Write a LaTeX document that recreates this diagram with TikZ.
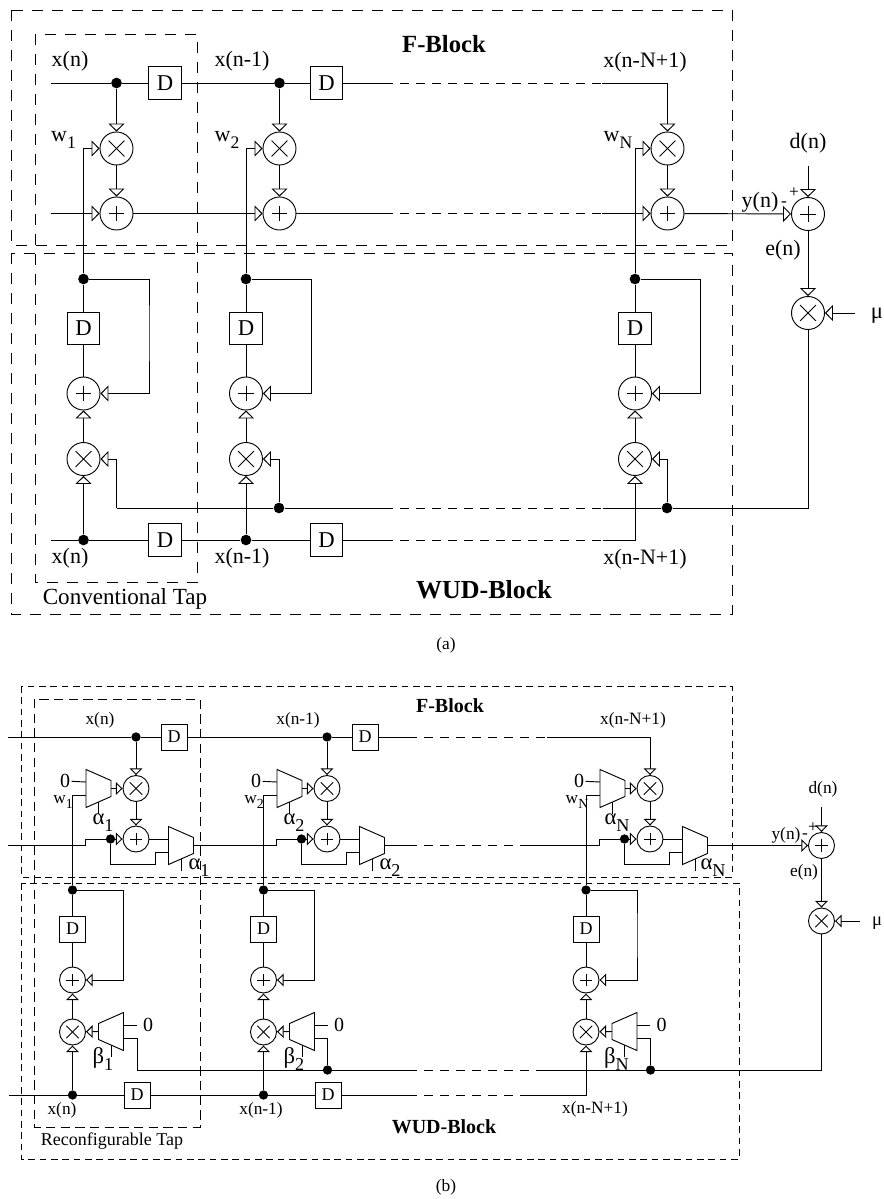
\documentclass[tikz,border=0pt]{standalone}
\usepackage{fontspec}
\setmainfont{Liberation Serif}
\usetikzlibrary{arrows.meta}
\newcommand{\lsub}[2]{#1\raisebox{-.7ex}{\scalebox{.8}{#2}}}
\tikzset{
  wire/.style={line width=.7pt},
  gapa/.style={line width=.75pt,dash pattern=on 7pt off 5pt},
  tipa/.style={wire,-{Triangle[open,fill=white,length=6pt,width=12pt]}},
  tipb/.style={wire,-{Triangle[open,fill=white,length=5pt,width=9.5pt]}},
  blocka/.style={line width=.7pt,dash pattern=on 8pt off 7pt},
  blockb/.style={line width=.6pt,dash pattern=on 5pt off 3.5pt},
  tapb/.style={line width=.65pt,dash pattern=on 7pt off 4pt},
  mulnode/.style={circle,draw,wire,fill=white,minimum size=#1,inner sep=0pt,path picture={
    \draw[wire] ([shift={(-.24*#1,-.24*#1)}]path picture bounding box.center) -- ([shift={(.24*#1,.24*#1)}]path picture bounding box.center);
    \draw[wire] ([shift={(-.24*#1,.24*#1)}]path picture bounding box.center) -- ([shift={(.24*#1,-.24*#1)}]path picture bounding box.center);}},
  addnode/.style={circle,draw,wire,fill=white,minimum size=#1,inner sep=0pt,path picture={
    \draw[wire] ([xshift=-.24*#1]path picture bounding box.center) -- ([xshift=.24*#1]path picture bounding box.center);
    \draw[wire] ([yshift=-.24*#1]path picture bounding box.center) -- ([yshift=.24*#1]path picture bounding box.center);}},
  dela/.style={draw,wire,fill=white,minimum size=24.5pt,inner sep=0pt,font=\fontsize{17}{18}\selectfont},
  delb/.style={draw,wire,fill=white,minimum size=19.5pt,inner sep=0pt,font=\fontsize{13.5}{14}\selectfont},
  dota/.style={circle,fill=black,minimum size=8pt,inner sep=0pt},
  dotb/.style={circle,fill=black,minimum size=7pt,inner sep=0pt},
  laba/.style={inner sep=1pt,font=\fontsize{16.5}{18}\selectfont},
  labb/.style={inner sep=1pt,font=\fontsize{13}{15}\selectfont},
  labc/.style={inner sep=1pt,font=\fontsize{15}{16}\selectfont},
  labg/.style={inner sep=1pt,font=\fontsize{17}{18}\selectfont},
  heada/.style={inner sep=1pt,font=\fontsize{18.5}{20}\selectfont\bfseries},
  headb/.style={inner sep=1pt,font=\fontsize{15}{16}\selectfont\bfseries},
  pics/muxshape/.style={code={
    \draw[wire] (-12.5,-19) -- (12.5,-8) -- (12.5,8) -- (-12.5,19) -- cycle;
    \coordinate (-ia) at (-12.5,-6.5);
    \coordinate (-ib) at (-12.5,6.5);
    \coordinate (-o) at (12.5,0);
    \coordinate (-sa) at (0,13.5);
    \coordinate (-sb) at (0,25);}}
}
\begin{document}
\begin{tikzpicture}[x=.75pt,y=-.75pt]
\useasboundingbox (0,0) rectangle (884,1199);
\draw[blocka] (11,10) rectangle (732,245);
\draw[blocka] (11,253) rectangle (732,614);
\draw[blocka] (35,34) rectangle (197.5,582);
\node[heada] (fheada) at (444,44) {F-Block};
\node[heada,font=\fontsize{19.5}{20}\selectfont\bfseries] (wheada) at (484,590) {WUD-Block};
\node[laba,font=\fontsize{17.3}{18}\selectfont] (ltapa) at (125,599) {Conventional Tap};
\node[labb] (capa) at (446,645) {(a)};
\foreach \k/\xm/\xv in {1/116.5/83.5,2/279.5/246,N/667.5/635}{
  \node[mulnode=24.75pt] (mula\k) at (\xm,148.5) {};
  \node[addnode=24.75pt] (adda\k) at (\xm,213.5) {};
  \node[dota] (fba\k) at (\xv,279) {};
  \node[dela] (dfa\k) at (\xv,328.5) {D};
  \node[addnode=24.75pt] (addl\k) at (\xv,393.5) {};
  \node[mulnode=24.75pt] (mull\k) at (\xv,459) {};
  \coordinate (fra\k) at (\xv+65.5,330);
  \draw[tipa] (mula\k) -- (adda\k);
  \draw[tipa] (fba\k) |- (mula\k);
  \draw[wire] (fba\k) -- (dfa\k);
  \draw[wire] (dfa\k) -- (addl\k);
  \draw[tipa] (fba\k) -| (fra\k) |- (addl\k);
  \draw[tipa] (mull\k) -- (addl\k);
}
\foreach \k/\xm/\xv/\xd in {1/116.5/83.5/165,2/279.5/246/326.5}{
  \node[dota] (dxa\k) at (\xm,83) {};
  \node[dela] (dta\k) at (\xd,83) {D};
  \node[dota] (dba\k) at (\xv,540) {};
  \node[dela] (dda\k) at (\xd,540) {D};
  \draw[tipa] (dxa\k) -- (mula\k);
  \draw[tipa] (dba\k) -- (mull\k);
}
\coordinate (cxa0) at (51,83);
\coordinate (cxa1) at (384,83);
\coordinate (cxa2) at (602,83);
\draw[wire] (cxa0) -- (dxa1) -- (dta1) -- (dxa2) -- (dta2) -- (cxa1);
\draw[gapa] (cxa1) -- (cxa2);
\draw[tipa] (cxa2) -| (mulaN);
\coordinate (csa0) at (51,213.5);
\coordinate (csa1) at (384,213.5);
\coordinate (csa2) at (602,213.5);
\draw[tipa] (csa0) -- (adda1);
\draw[tipa] (adda1) -- (adda2);
\draw[wire] (adda2) -- (csa1);
\draw[gapa] (csa1) -- (csa2);
\draw[tipa] (csa2) -- (addaN);
\coordinate (cba0) at (51,540);
\coordinate (cba1) at (384,540);
\coordinate (cba2) at (603,540);
\draw[wire] (cba0) -- (dba1) -- (dda1) -- (dba2) -- (dda2) -- (cba1);
\draw[gapa] (cba1) -- (cba2);
\draw[tipa] (cba2) -| (mullN);
\node[addnode=24.75pt] (adde) at (808,214) {};
\node[mulnode=24.75pt] (mule) at (808,313) {};
\coordinate (cdn) at (808,166);
\coordinate (cmu) at (855,313);
\draw[tipa] (addaN) -- (adde);
\draw[tipa] (cdn) -- (adde);
\draw[tipa] (adde) -- (mule);
\draw[tipa] (cmu) -- (mule);
\node[dota] (dea2) at (279,508) {};
\node[dota] (deaN) at (667,508) {};
\coordinate (cea0) at (116.5,508);
\coordinate (cea1) at (384,508);
\coordinate (cea2) at (603,508);
\draw[wire] (cea0) -- (dea2) -- (cea1);
\draw[gapa] (cea1) -- (cea2);
\draw[wire] (cea2) -- (deaN);
\draw[wire] (mule) |- (deaN);
\draw[tipa] (cea0) |- (mull1);
\draw[tipa] (dea2) |- (mull2);
\draw[tipa] (deaN) |- (mullN);
\node[laba] (lxa1) at (70,61) {x(n)};
\node[laba] (lxa2) at (242,61) {x(n-1)};
\node[laba] (lxaN) at (645,62) {x(n-N+1)};
\node[laba] (lba1) at (70,558) {x(n)};
\node[laba] (lba2) at (242,558) {x(n-1)};
\node[laba] (lbaN) at (645,559) {x(n-N+1)};
\node[laba] (lwa1) at (63.5,140) {\lsub{w}{1}};
\node[laba] (lwa2) at (227,140) {\lsub{w}{2}};
\node[laba] (lwaN) at (618,140) {\lsub{w}{N}};
\node[laba] (lyn) at (760,202) {y(n)};
\node[labb] (lmn) at (784,204) {-};
\node[labb] (lpl) at (794,193) {+};
\node[laba] (len) at (783,250) {e(n)};
\node[laba] (ldn) at (808,143) {d(n)};
\node[labg] (lmu) at (877,316) {μ};
%
\draw[blockb] (21,686) rectangle (732,877);
\draw[blockb] (21,883) rectangle (739,1159);
\draw[tapb] (34,699) rectangle (200,1127);
\node[headb] (fheadb) at (450,706) {F-Block};
\node[headb] (wheadb) at (444,1127) {WUD-Block};
\node[labb,font=\fontsize{13.5}{15}\selectfont] (ltapb) at (112,1141) {Reconfigurable Tap};
\node[labb] (capb) at (446,1187) {(b)};
\foreach \k/\xm/\xv/\l in {1/136/72.5/1,2/327/263.5/2,N/650/586/N}{
  \node[mulnode=19.5pt] (mubt\k) at (\xm,788.5) {};
  \node[addnode=19.5pt] (adbt\k) at (\xm,839) {};
  \node[dotb] (dsb\k) at (\xm-25.5,839) {};
  \node[dotb] (fbb\k) at (\xv,890) {};
  \node[delb] (dfb\k) at (\xv,929) {D};
  \node[addnode=19.5pt] (adbl\k) at (\xv,980) {};
  \node[mulnode=19.5pt] (mubl\k) at (\xv,1032) {};
  \pic (muxa\k) at (\xm-37.5,788.5) {muxshape};
  \pic (muxb\k) at (\xm+45,845.5) {muxshape};
  \pic[xscale=-1] (muxc\k) at (\xv+38.5,1031.5) {muxshape};
  \node[labc] (zra\k) at (\xm-71,781) {0};
  \node[labc,inner sep=4.5pt] (zrc\k) at (\xv+75.5,1025) {0};
  \node[labb] (lwb\k) at (\xm-73,802) {\lsub{w}{\l}};
  \node[labg] (lab\k) at (\xm-33,823) {\lsub{α}{\l}};
  \node[labg] (lac\k) at (\xm+63,868) {\lsub{α}{\l}};
  \node[labg] (lbc\k) at (\xv+30.5,1059) {\lsub{β}{\l}};
  \coordinate (csb\k) at (\xm-51,845.5);
  \coordinate (ctb\k) at (\xm-51,839);
  \coordinate (cfb\k) at (\xm+19,864);
  \coordinate (frb\k) at (\xv+51,935);
  \draw[wire] (zra\k) -- (muxa\k-ia);
  \draw[wire] (zrc\k) -- (muxc\k-ia);
  \draw[tipb] (muxa\k-o) -- (mubt\k);
  \draw[tipb] (muxc\k-o) -- (mubl\k);
  \draw[tipb] (mubt\k) -- (adbt\k);
  \draw[wire] (muxa\k-sa) -- (muxa\k-sb);
  \draw[wire] (muxb\k-sa) -- (muxb\k-sb);
  \draw[wire] (muxc\k-sa) -- (muxc\k-sb);
  \draw[wire] (csb\k) -- (ctb\k) -- (dsb\k);
  \draw[tipb] (dsb\k) -- (adbt\k);
  \draw[wire] (adbt\k) -- (muxb\k-ia);
  \draw[wire] (dsb\k) |- (cfb\k) |- (muxb\k-ib);
  \draw[wire] (fbb\k) |- (muxa\k-ib);
  \draw[wire] (fbb\k) -- (dfb\k);
  \draw[wire] (dfb\k) -- (adbl\k);
  \draw[tipb] (fbb\k) -| (frb\k) |- (adbl\k);
  \draw[tipb] (mubl\k) -- (adbl\k);
}
\foreach \k/\xm/\xv/\xd in {1/136/72.5/174,2/327/263.5/365}{
  \node[dotb] (dxb\k) at (\xm,737) {};
  \node[delb] (dtb\k) at (\xd,737) {D};
  \node[dotb] (dbb\k) at (\xv,1095) {};
  \node[delb] (ddb\k) at (\xv+64.5,1095) {D};
  \draw[tipb] (dxb\k) -- (mubt\k);
  \draw[tipb] (dbb\k) -- (mubl\k);
}
\coordinate (cxb0) at (8,737);
\coordinate (cxb1) at (408,737);
\coordinate (cxb2) at (547,737);
\draw[wire] (cxb0) -- (dxb1) -- (dtb1) -- (dxb2) -- (dtb2) -- (cxb1);
\draw[gapa] (cxb1) -- (cxb2);
\draw[tipb] (cxb2) -| (mubtN);
\coordinate (csb0) at (8,845.5);
\coordinate (csbm) at (408,845.5);
\coordinate (csbn) at (520,845.5);
\draw[wire] (csb0) -- (csb1);
\draw[wire] (muxb1-o) -- (csb2);
\draw[wire] (muxb2-o) -- (csbm);
\draw[gapa] (csbm) -- (csbn);
\draw[wire] (csbn) -- (csbN);
\coordinate (cbb0) at (9,1095);
\coordinate (cbb1) at (408,1095);
\coordinate (cbb2) at (523,1095);
\draw[wire] (cbb0) -- (dbb1) -- (ddb1) -- (dbb2) -- (ddb2) -- (cbb1);
\draw[gapa] (cbb1) -- (cbb2);
\draw[tipb] (cbb2) -| (mublN);
\node[addnode=19.5pt] (adbe) at (821.5,845.5) {};
\node[mulnode=19.5pt] (mube) at (821.5,921) {};
\coordinate (cdb) at (821.5,807);
\coordinate (cmb) at (860,921);
\draw[tipb] (muxbN-o) -- (adbe);
\draw[tipb] (cdb) -- (adbe);
\draw[tipb] (adbe) -- (mube);
\draw[tipb] (cmb) -- (mube);
\node[dotb] (deb2) at (327.5,1070) {};
\node[dotb] (debN) at (650.5,1070) {};
\coordinate (ceb0) at (137,1070);
\coordinate (ceb1) at (408,1070);
\coordinate (ceb2) at (537,1070);
\draw[wire] (ceb0) -- (deb2) -- (ceb1);
\draw[gapa] (ceb1) -- (ceb2);
\draw[wire] (ceb2) -- (debN);
\draw[wire] (mube) |- (debN);
\draw[wire] (ceb0) |- (muxc1-ib);
\draw[wire] (deb2) |- (muxc2-ib);
\draw[wire] (debN) |- (muxcN-ib);
\node[labb] (lxb1) at (100,720) {x(n)};
\node[labb] (lxb2) at (298,720) {x(n-1)};
\node[labb] (lxbN) at (633,720) {x(n-N+1)};
\node[labb] (lbb1) at (62,1110) {x(n)};
\node[labb] (lbb2) at (261,1110) {x(n-1)};
\node[labb] (lbbN) at (595,1109) {x(n-N+1)};
\node[labb] (lyb) at (786,835) {y(n)};
\node[labb] (lmb) at (805,836) {-};
\node[labb] (lpb) at (813,828) {+};
\node[labb] (leb) at (804,872) {e(n)};
\node[labb] (ldb) at (823,789) {d(n)};
\node[labb,font=\fontsize{14}{15}\selectfont] (lub) at (877,923) {μ};
\end{tikzpicture}
\end{document}
